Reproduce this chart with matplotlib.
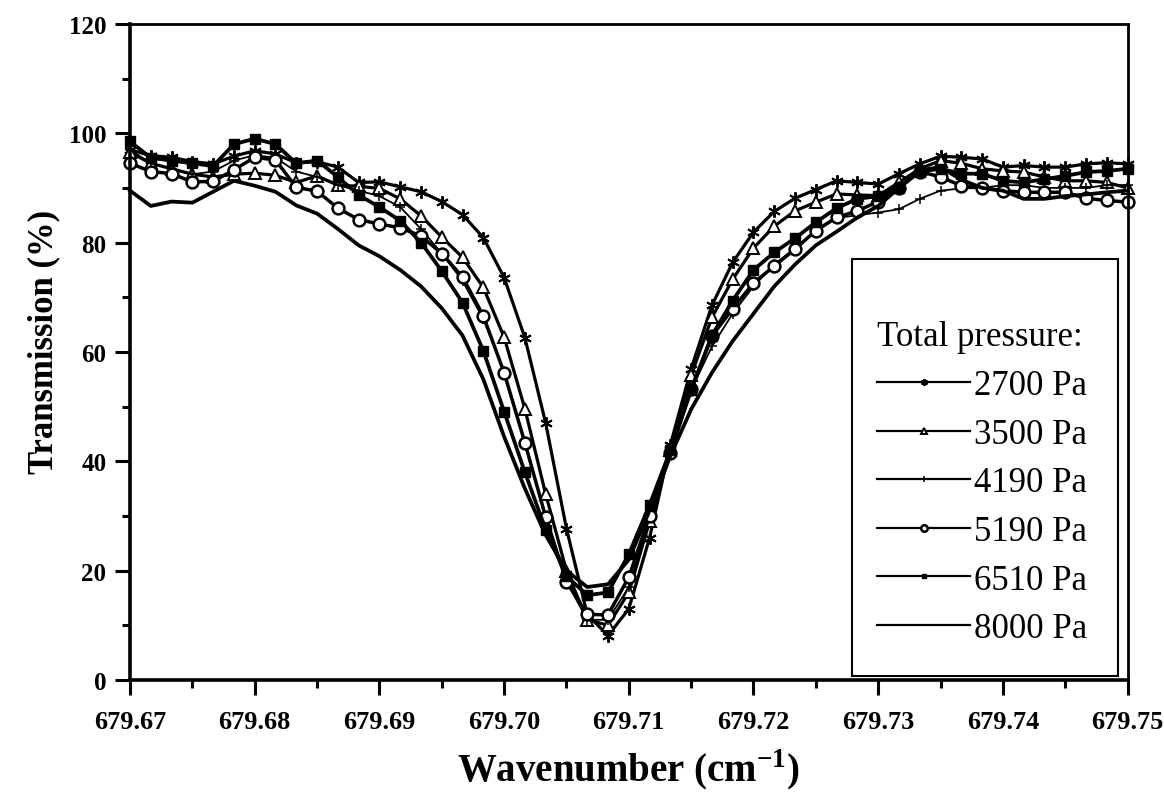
import numpy as np
import matplotlib
matplotlib.use("Agg")
import matplotlib.pyplot as plt
from matplotlib.patches import Rectangle
from matplotlib.ticker import MultipleLocator, FormatStrFormatter

plt.rcParams['font.family'] = ['Liberation Serif', 'DejaVu Serif']
plt.rcParams['mathtext.fontset'] = 'custom'
plt.rcParams['mathtext.rm'] = 'Liberation Serif:bold'
plt.rcParams['mathtext.bf'] = 'Liberation Serif:bold'

# sampling grid of the scan (cm^-1)
wavenumber = np.linspace(679.67, 679.75, 49)

# transmission (%) at each total pressure
t2700 = [97.0, 95.9, 95.6, 94.8, 94.4, 95.8, 96.8, 96.2, 94.6, 94.8,
         93.8, 91.0, 91.1, 90.2, 89.3, 87.5, 85.1, 80.9, 73.6, 62.6,
         47.0, 27.7, 12.0, 8.1, 13.0, 26.0, 43.0, 56.9, 68.5, 76.4,
         81.9, 85.7, 88.1, 89.7, 91.3, 91.0, 90.7, 92.6, 94.4, 95.8,
         95.6, 95.3, 93.8, 94.1, 93.8, 93.8, 94.4, 94.6, 94.4]
t3500 = [96.5, 94.5, 93.5, 92.5, 92.0, 92.5, 92.7, 92.3, 91.0, 92.2,
         90.5, 90.3, 89.9, 88.0, 84.9, 81.0, 77.3, 71.8, 62.7, 49.6,
         34.0, 20.0, 11.0, 10.0, 16.0, 29.0, 42.0, 55.7, 66.3, 73.3,
         79.0, 83.0, 85.8, 87.4, 88.9, 88.7, 88.6, 91.0, 93.5, 95.0,
         94.5, 93.5, 93.1, 92.9, 92.0, 91.3, 91.3, 91.0, 90.0]
t4190 = [97.0, 94.5, 93.5, 92.5, 93.0, 95.0, 96.0, 95.5, 93.0, 92.0,
         90.5, 89.5, 88.5, 86.5, 82.5, 78.0, 73.0, 66.0, 56.5, 43.5,
         30.0, 18.0, 11.0, 11.0, 17.0, 30.0, 42.0, 53.0, 61.0, 67.0,
         72.0, 76.0, 79.0, 82.0, 84.5, 85.0, 85.5, 86.1, 88.0, 89.5,
         89.9, 90.0, 90.5, 90.5, 90.0, 90.0, 90.0, 90.5, 90.5]
t5190 = [94.5, 93.0, 92.6, 91.1, 91.2, 93.3, 95.6, 95.1, 90.1, 89.4,
         86.3, 84.2, 83.4, 82.7, 81.2, 78.0, 73.7, 66.6, 56.2, 43.4,
         29.8, 18.0, 12.0, 11.9, 18.8, 30.0, 41.5, 53.2, 62.9, 67.9,
         72.6, 75.7, 78.8, 82.2, 84.6, 85.8, 87.5, 90.0, 93.0, 92.0,
         90.4, 89.9, 89.5, 89.2, 89.2, 89.2, 88.1, 87.7, 87.4]
t6510 = [98.5, 95.5, 95.0, 94.5, 94.0, 98.0, 99.0, 98.0, 94.5, 95.0,
         92.0, 88.7, 86.5, 84.0, 80.0, 74.8, 69.0, 60.2, 49.1, 38.0,
         27.5, 19.0, 15.5, 16.0, 23.0, 32.0, 42.0, 53.0, 63.0, 69.4,
         75.0, 78.2, 80.8, 83.7, 86.3, 88.0, 88.5, 90.0, 93.0, 93.5,
         92.6, 92.6, 91.3, 91.0, 91.6, 92.2, 92.9, 93.1, 93.5]
t8000 = [89.5, 86.7, 87.5, 87.3, 89.3, 91.3, 90.4, 89.3, 86.8, 85.3,
         82.5, 79.5, 77.5, 75.0, 72.0, 68.0, 63.0, 55.0, 44.5, 35.0,
         26.5, 20.0, 17.0, 17.5, 22.0, 31.0, 41.0, 49.5, 56.2, 62.0,
         67.0, 72.0, 76.0, 79.5, 82.0, 84.6, 86.7, 90.0, 93.2, 93.8,
         91.5, 90.0, 89.5, 88.0, 88.0, 88.5, 88.8, 89.2, 89.5]

labels = ["2700 Pa", "3500 Pa", "4190 Pa", "5190 Pa", "6510 Pa", "8000 Pa"]
curves = [t2700, t3500, t4190, t5190, t6510, t8000]
styles = [
    dict(marker=(6, 2, 0), ms=9, mew=1.4, lw=2.3),
    dict(marker='^', ms=9, mfc='white', mew=1.4, lw=2.3),
    dict(marker='+', ms=7, mew=1.1, lw=1.3),
    dict(marker='o', ms=8.5, mfc='white', mew=1.8, lw=2.5),
    dict(marker='s', ms=6.5, lw=2.7),
    dict(lw=2.7),
]

fig = plt.figure(figsize=(11.64, 8.03), dpi=100)
ax = fig.add_axes([0.1117, 0.152, 0.857, 0.817])

for lab, y, st in zip(labels, curves, styles):
    ax.plot(wavenumber, y, color='black', mec='black', label=lab,
            clip_on=False, **st)

ax.set_xlim(679.67, 679.75)
ax.set_ylim(0, 120)
ax.xaxis.set_major_locator(MultipleLocator(0.01))
ax.xaxis.set_minor_locator(MultipleLocator(0.005))
ax.xaxis.set_major_formatter(FormatStrFormatter('%.2f'))
ax.yaxis.set_major_locator(MultipleLocator(20))
ax.yaxis.set_minor_locator(MultipleLocator(10))
ax.tick_params(which='both', direction='out', top=False, right=False,
               width=2.2)
ax.tick_params(which='major', length=11)
ax.tick_params(which='minor', length=6)
ax.tick_params(axis='x', labelsize=19, pad=11)
ax.tick_params(axis='y', labelsize=18, pad=6)
for lbl in ax.get_xticklabels() + ax.get_yticklabels():
    lbl.set_fontweight('bold')
for side in ['left', 'bottom']:
    ax.spines[side].set_linewidth(2.6)
for side in ['top', 'right']:
    ax.spines[side].set_linewidth(2.0)

ax.set_xlabel(r'Wavenumber (cm$^{\mathbf{-1}}$)', fontsize=28,
              fontweight='bold', labelpad=10)
ax.set_ylabel('Transmission (%)', fontsize=25, fontweight='bold')
ax.yaxis.set_label_coords(-0.070, 0.517)

# legend box sits on the bottom axis, frame drawn separately
ax.add_patch(Rectangle((0.7234, 0.006), 0.2666, 0.636, transform=ax.transAxes,
                       fill=False, lw=1.5, ec='black', zorder=5))
leg = ax.legend(loc='upper left', bbox_to_anchor=(0.7485, 0.548),
                frameon=False, title='Total pressure:', alignment='left',
                fontsize=25, title_fontsize=25, handlelength=2.7,
                handletextpad=0.1, labelspacing=0.45, borderpad=0,
                borderaxespad=0, markerscale=0.55)
for ln in leg.get_lines():
    ln.set_linewidth(1.6)

fig.savefig('out.png', dpi=100)
